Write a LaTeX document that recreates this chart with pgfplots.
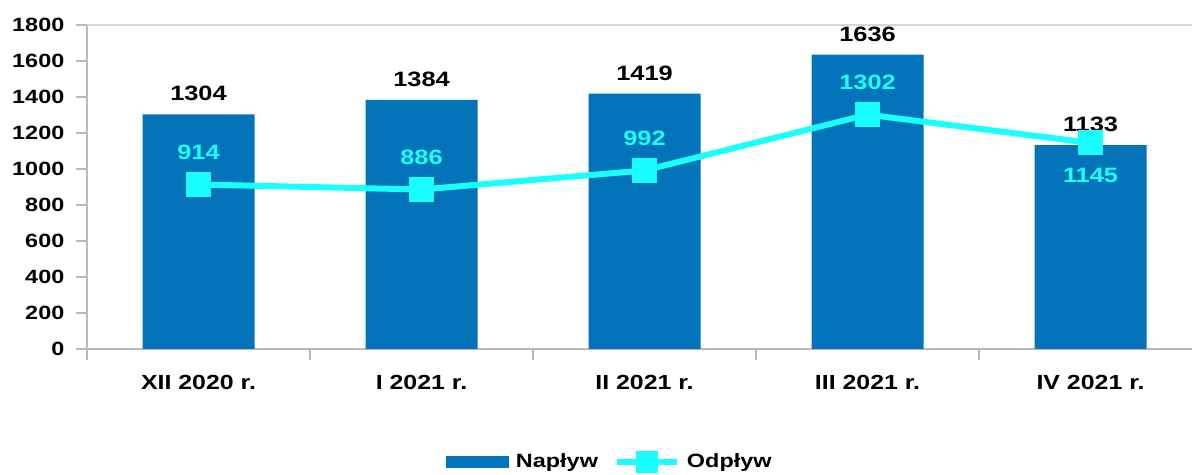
\documentclass[border=0pt]{standalone}
\usepackage{fontspec}
\setmainfont{Liberation Sans}[FakeStretch=1.22]
\usepackage{pgfplots}
\pgfplotsset{compat=1.18}

\definecolor{naplyw}{RGB}{4,116,186}
\definecolor{odplyw}{RGB}{25,255,255}
\definecolor{axisgray}{RGB}{185,185,185}
\definecolor{topgray}{RGB}{215,215,215}

\newcommand\tickfont{\fontsize{9.6}{11}\selectfont\bfseries}
\newcommand\catfont{\fontsize{10.2}{12}\selectfont\bfseries}
\newcommand\valfont{\fontsize{10.4}{12}\selectfont\bfseries}

\pgfplotsset{
    barlegend/.style={legend image code/.code={\fill[naplyw] (0pt,-3pt) rectangle (31.5pt,3pt);}},
    linelegend/.style={legend image code/.code={%
        \draw[##1, mark size=3.8pt, mark repeat=2, mark phase=2]
            plot coordinates {(0pt,0pt) (15pt,0pt) (30pt,0pt)};}},
}

\begin{document}
\begin{tikzpicture}
\begin{axis}[
    at={(0,0)}, anchor=south west,
    scale only axis, width=552.5pt, height=162pt,
    xmin=-0.5, xmax=4.455, ymin=0, ymax=1800,
    axis x line=bottom, axis y line=left,
    axis line style={-, draw=axisgray, line width=0.8pt},
    tick align=outside, major tick length=5.5pt,
    tick style={draw=axisgray, line width=0.8pt},
    ytick={0,200,...,1800},
    extra y ticks={1800}, extra y tick labels={},
    extra y tick style={grid=major, major grid style={draw=topgray, line width=1pt}},
    xtick={-0.5,0.5,1.5,2.5,3.5},
    xticklabels={XII 2020 r., I 2021 r., II 2021 r., III 2021 r., IV 2021 r.},
    x tick label style={font=\catfont, xshift=55.75pt, yshift=-4pt},
    y tick label style={font=\tickfont, xshift=-2.3pt},
    /pgf/number format/assume math mode=true,
    /pgf/number format/1000 sep={},
    legend style={at={(0.474,-0.349)}, anchor=center, draw=none, fill=none,
        legend columns=-1, font=\tickfont, inner sep=0pt,
        /tikz/every odd column/.append style={column sep=1.5pt},
        /tikz/every even column/.append style={column sep=6pt}},
    legend cell align=left,
]
\addplot[ybar, bar width=56pt, fill=naplyw, draw=none,
    nodes near coords,
    nodes near coords style={font=\valfont, text=black, anchor=south, yshift=3pt},
    barlegend]
    coordinates {(0,1304) (1,1384) (2,1419) (3,1636) (4,1133)};
\addlegendentry{Napływ}

\addplot[odplyw, line width=3pt, mark=square*, mark size=4.8pt,
    mark options={draw=none, fill=odplyw},
    visualization depends on={value \thisrow{a} \as \lanchor},
    visualization depends on={\thisrow{s} \as \lshift},
    nodes near coords,
    nodes near coords style={font=\valfont, text=odplyw, anchor=\lanchor, yshift=\lshift pt},
    linelegend]
    table[x=x, y=y] {
x y a s
0 914 south 7.5
1 886 south 7.5
2 992 south 7.5
3 1302 south 7.5
4 1145 north -8
};
\addlegendentry{Odpływ}
\end{axis}
\pgfresetboundingbox
\path[use as bounding box] (-43.5pt,-63pt) rectangle (552.5pt,174.5pt);
\end{tikzpicture}
\end{document}
